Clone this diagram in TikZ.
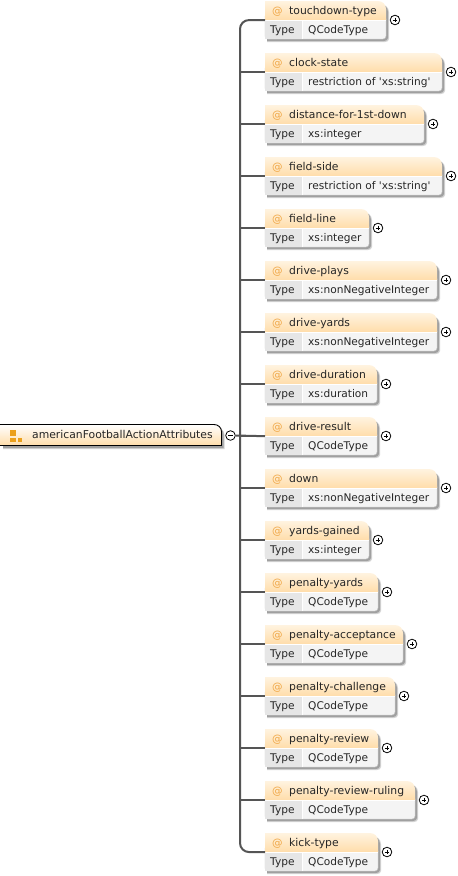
\documentclass[tikz,border=0pt]{standalone}
\usepackage{fontspec}
\setmainfont{DejaVu Sans}
\definecolor{conn}{HTML}{555555}
\definecolor{hdrtop}{HTML}{FFF3E0}
\definecolor{hdrbot}{HTML}{FFDDAA}
\definecolor{lblcell}{HTML}{E6E6E6}
\definecolor{valcell}{HTML}{F4F4F4}
\definecolor{shadowc}{HTML}{A0A0A0}
\definecolor{shadowl}{HTML}{D4D4D4}
\definecolor{atc}{HTML}{F0A848}
\definecolor{iconc}{HTML}{EBA01C}
\tikzset{
  x=1pt,y=-1pt,
  conline/.style={draw=conn,line width=2pt},
  boxanchor/.style={inner sep=0pt,minimum height=38pt,anchor=north west,rectangle},
  nametext/.style={font=\fontsize{10.8}{12}\selectfont,text=black!85,anchor=west,inner sep=0pt,text height=7.5pt,text depth=2pt},
  attext/.style={font=\fontsize{10.5}{12}\selectfont,text=atc,anchor=west,inner sep=0pt,text height=7.5pt,text depth=2pt},
  typetext/.style={font=\fontsize{10.6}{12}\selectfont,text=black!85,anchor=west,inner sep=0pt,text height=7.5pt,text depth=2pt},
  toggle/.style={circle,draw=black,line width=0.8pt,fill=white,minimum size=9.6pt,inner sep=0pt},
  glyph/.style={draw=black,line width=0.8pt},
}
\begin{document}
\begin{tikzpicture}
\useasboundingbox (0,0) rectangle (458,876);
\fill[white] (0,0) rectangle (458,876);
% root
\fill[shadowl] (3,427) -- (215,427) to[out=0,in=90] (224.5,435) -- (224.5,449) -- (3,449) -- cycle;
\fill[shadowc] (3,427) -- (215,427) to[out=0,in=90] (223.5,434) -- (223.5,448) -- (3,448) -- cycle;
\node[rectangle,inner sep=0pt,minimum width=222pt,minimum height=22pt,anchor=north west] (root) at (0,424) {};
\shade[top color=white,bottom color=hdrbot,draw=black,line width=0.9pt]
  (-1,424.5) -- (214,424.5) to[out=0,in=90] (221.5,431.5) -- (221.5,445.5) -- (-1,445.5) -- cycle;
\fill[iconc] (10,430) rectangle (16,436);
\fill[iconc] (10,437.5) rectangle (16,442);
\fill[iconc] (17.5,437.5) rectangle (22,442);
\node[nametext,anchor=west] (rootname) at (32,436) {americanFootballActionAttributes};
\node[toggle] (minus) at (230.5,435.5) {};
\draw[glyph] (228,435.5) -- (233,435.5);
% boxes
\foreach \i/\nm/\ty/\rt in {
 1/touchdown-type/QCodeType/386,
 2/clock-state/restriction of \textquotesingle xs:string\textquotesingle/442,
 3/distance-for-1st-down/xs:integer/424,
 4/field-side/restriction of \textquotesingle xs:string\textquotesingle/442,
 5/field-line/xs:integer/369,
 6/drive-plays/xs:nonNegativeInteger/437,
 7/drive-yards/xs:nonNegativeInteger/437,
 8/drive-duration/xs:duration/377,
 9/drive-result/QCodeType/377,
 10/down/xs:nonNegativeInteger/437,
 11/yards-gained/xs:integer/369,
 12/penalty-yards/QCodeType/378,
 13/penalty-acceptance/QCodeType/403,
 14/penalty-challenge/QCodeType/395,
 15/penalty-review/QCodeType/378,
 16/penalty-review-ruling/QCodeType/415,
 17/kick-type/QCodeType/378}{
  \pgfmathsetmacro{\t}{1+52*(\i-1)}
  \pgfmathsetmacro{\w}{\rt-265}
  \pgfmathsetmacro{\b}{\t+38}
  \pgfmathsetmacro{\hm}{\t+10.6}
  \pgfmathsetmacro{\tm}{\t+29.6}
  \pgfmathsetmacro{\pm}{\rt+9}
  \node[boxanchor,minimum width=\w pt] (b\i) at (265,\t) {};
  % shadow
  \fill[shadowl] (267,\t+3) -- (\rt-6,\t+3) to[out=0,in=90] (\rt+3,\t+11) -- (\rt+3,\b) to[out=-90,in=0] (\rt-1,\b+3) -- (267,\b+3) -- cycle;
  \fill[shadowc] (267,\t+3) -- (\rt-6,\t+3) to[out=0,in=90] (\rt+2,\t+11) -- (\rt+2,\b-1) to[out=-90,in=0] (\rt-2,\b+2) -- (267,\b+2) -- cycle;
  % type row
  \path[fill=valcell,draw=black!22,line width=0.4pt,rounded corners=3pt] (265,\t+15) -- (\rt,\t+15) -- (\rt,\b) -- (265,\b) [sharp corners] -- cycle;
  \fill[lblcell] (265,\t+19.5) rectangle (302,\b-0.3);
  \draw[white,line width=1pt] (302.5,\t+19.5) -- (302.5,\b-0.3);
  % header
  \shade[top color=hdrtop,bottom color=hdrbot] (265,\t+19) -- (265,\t) -- (\rt-8,\t) to[out=0,in=90] (\rt,\t+8) -- (\rt,\t+19) -- cycle;
  \draw[white,line width=0.8pt] (265,\t+19.3) -- (\rt,\t+19.3);
  \node[attext] (at\i) at (272,\hm) {@};
  \node[nametext] (n\i) at (289,\hm) {\nm};
  \node[typetext] (l\i) at (270,\tm) {Type};
  \node[typetext] (v\i) at (308,\tm) {\ty};
  \node[toggle] (p\i) at (\pm,\t+19) {};
  \draw[glyph] (\pm-2.4,\t+19) -- (\pm+2.4,\t+19);
  \draw[glyph] (\pm,\t+16.6) -- (\pm,\t+21.4);
}
% connectors
\coordinate (tt) at (240,20);
\coordinate (tb) at (240,852);
\draw[conline,rounded corners=9pt] (b1.west) -- (tt) -- (tb) -- (b17.west);
\foreach \i in {2,...,16}{
  \draw[conline] (b\i.west) -- (b\i.west -| tt);
}
\draw[conline] (minus.east) -- (b9.west);
\end{tikzpicture}
\end{document}
